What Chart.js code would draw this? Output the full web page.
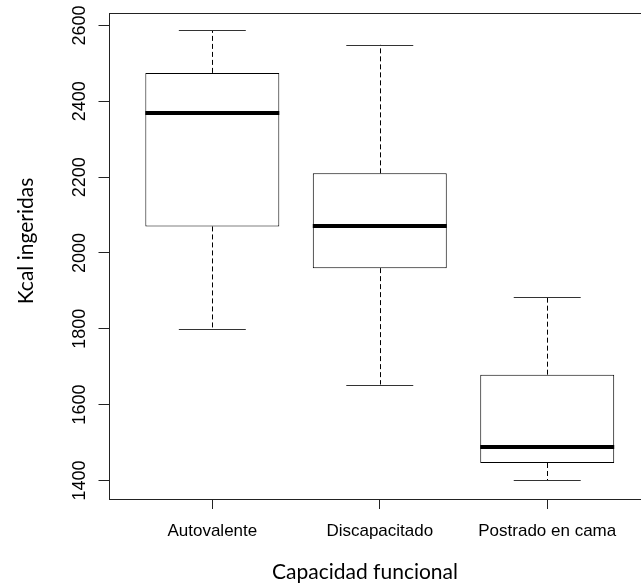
<!DOCTYPE html>
<html>
<head>
<meta charset="utf-8">
<title>Kcal ingeridas por capacidad funcional</title>
<script src="https://cdn.jsdelivr.net/npm/chart.js@4.4.0/dist/chart.umd.min.js"></script>
<style>
  body { margin: 0; background: #fff; }
  canvas { display: block; }
</style>
</head>
<body>
<canvas id="myChart" width="641" height="586"></canvas>
<script>
'use strict';

let categories = ['Autovalente', 'Discapacitado', 'Postrado en cama'];
let minimo = [1800, 1653, 1401];
let q1 = [2070, 1960, 1446];
let mediana = [2369, 2071, 1488];
let q3 = [2475, 2210, 1679];
let maximo = [2587, 2549, 1883];
let yTicks = [1400, 1600, 1800, 2000, 2200, 2400, 2600];
let xTitle = 'Capacidad funcional';
let yTitle = 'Kcal ingeridas';

let tickFont = '"Liberation Sans", Arial, sans-serif';
let titleFont = 'Lato, "Open Sans", sans-serif';

// the box itself is a floating bar from q1 to q3
let boxes = [];
for (let i = 0; i < categories.length; i++) {
  boxes.push({ x: i + 1, y: [q1[i], q3[i]] });
}

function crisp(v) {
  return Math.round(v) + 0.5;
}

// whiskers, caps, median lines, frame and the rotated labels
let boxplotExtras = {
  id: 'boxplotExtras',
  afterDatasetsDraw(chart) {
    let ctx = chart.ctx;
    let xs = chart.scales.x;
    let ys = chart.scales.y;
    let meta = chart.getDatasetMeta(0);
    ctx.save();
    for (let i = 0; i < categories.length; i++) {
      let bar = meta.data[i];
      let cx = crisp(xs.getPixelForValue(i + 1));
      let capL = xs.getPixelForValue(i + 1 - 0.2);
      let capR = xs.getPixelForValue(i + 1 + 0.2);

      // dashed whiskers
      ctx.strokeStyle = '#000';
      ctx.lineWidth = 1;
      ctx.setLineDash([5, 3]);
      ctx.beginPath();
      ctx.moveTo(cx, ys.getPixelForValue(q3[i]));
      ctx.lineTo(cx, ys.getPixelForValue(maximo[i]));
      ctx.moveTo(cx, ys.getPixelForValue(q1[i]));
      ctx.lineTo(cx, ys.getPixelForValue(minimo[i]));
      ctx.stroke();

      // caps
      ctx.setLineDash([]);
      ctx.strokeStyle = '#333';
      ctx.beginPath();
      ctx.moveTo(capL, crisp(ys.getPixelForValue(maximo[i])));
      ctx.lineTo(capR, crisp(ys.getPixelForValue(maximo[i])));
      ctx.moveTo(capL, crisp(ys.getPixelForValue(minimo[i])));
      ctx.lineTo(capR, crisp(ys.getPixelForValue(minimo[i])));
      ctx.stroke();

      // median
      ctx.strokeStyle = '#000';
      ctx.lineWidth = 4;
      ctx.beginPath();
      ctx.moveTo(bar.x - bar.width / 2, ys.getPixelForValue(mediana[i]));
      ctx.lineTo(bar.x + bar.width / 2, ys.getPixelForValue(mediana[i]));
      ctx.stroke();
    }
    ctx.restore();
  },
  afterDraw(chart) {
    let ctx = chart.ctx;
    let area = chart.chartArea;
    let ys = chart.scales.y;
    ctx.save();

    // box around the plot
    ctx.strokeStyle = '#222';
    ctx.lineWidth = 1;
    ctx.strokeRect(crisp(area.left), crisp(area.top), area.right - area.left + 5, Math.round(area.bottom - area.top));

    // y tick labels, rotated like the original
    ctx.fillStyle = '#000';
    ctx.font = '18px ' + tickFont;
    ctx.textAlign = 'center';
    ctx.textBaseline = 'middle';
    for (let i = 0; i < yTicks.length; i++) {
      ctx.save();
      ctx.translate(area.left - 28.5, ys.getPixelForValue(yTicks[i]));
      ctx.rotate(-Math.PI / 2);
      ctx.fillText(String(yTicks[i]), 0, 0);
      ctx.restore();
    }

    // axis titles
    ctx.font = '21px ' + titleFont;
    ctx.textBaseline = 'alphabetic';
    ctx.fillText(xTitle, area.left + 256.5, 579);
    ctx.save();
    ctx.translate(33, area.top + 228);
    ctx.rotate(-Math.PI / 2);
    ctx.fillText(yTitle, 0, 0);
    ctx.restore();

    ctx.restore();
  }
};

let ctx = document.getElementById('myChart').getContext('2d');
let myChart = new Chart(ctx, {
  type: 'bar',
  data: {
    datasets: [{
      label: yTitle,
      data: boxes,
      backgroundColor: '#fff',
      borderColor: '#000',
      borderWidth: 1,
      borderSkipped: false,
      barPercentage: 0.8,
      categoryPercentage: 1.0
    }]
  },
  options: {
    responsive: false,
    animation: false,
    layout: { padding: { top: 13, right: 0, bottom: 0, left: 0 } },
    plugins: {
      legend: { display: false },
      tooltip: { enabled: false }
    },
    scales: {
      x: {
        type: 'linear',
        min: 0.38,
        max: 3.56,
        offset: false,
        border: { display: false },
        grid: { offset: false, drawOnChartArea: false, drawTicks: true, tickLength: 10, color: '#222' },
        afterBuildTicks: function (axis) {
          axis.ticks = categories.map(function (c, i) { return { value: i + 1 }; });
        },
        afterFit: function (axis) { axis.height = 87; },
        ticks: {
          autoSkip: false,
          maxRotation: 0,
          padding: 12,
          color: '#000',
          font: { family: tickFont, size: 17 },
          callback: function (v) { return categories[Math.round(v) - 1]; }
        }
      },
      y: {
        min: 1351,
        max: 2633,
        border: { display: false },
        grid: { drawOnChartArea: false, drawTicks: true, tickLength: 10, color: '#222' },
        afterBuildTicks: function (axis) {
          axis.ticks = yTicks.map(function (v) { return { value: v }; });
        },
        afterFit: function (axis) { axis.width = 108.5; },
        ticks: { display: false }
      }
    }
  },
  plugins: [boxplotExtras]
});
</script>
</body>
</html>
